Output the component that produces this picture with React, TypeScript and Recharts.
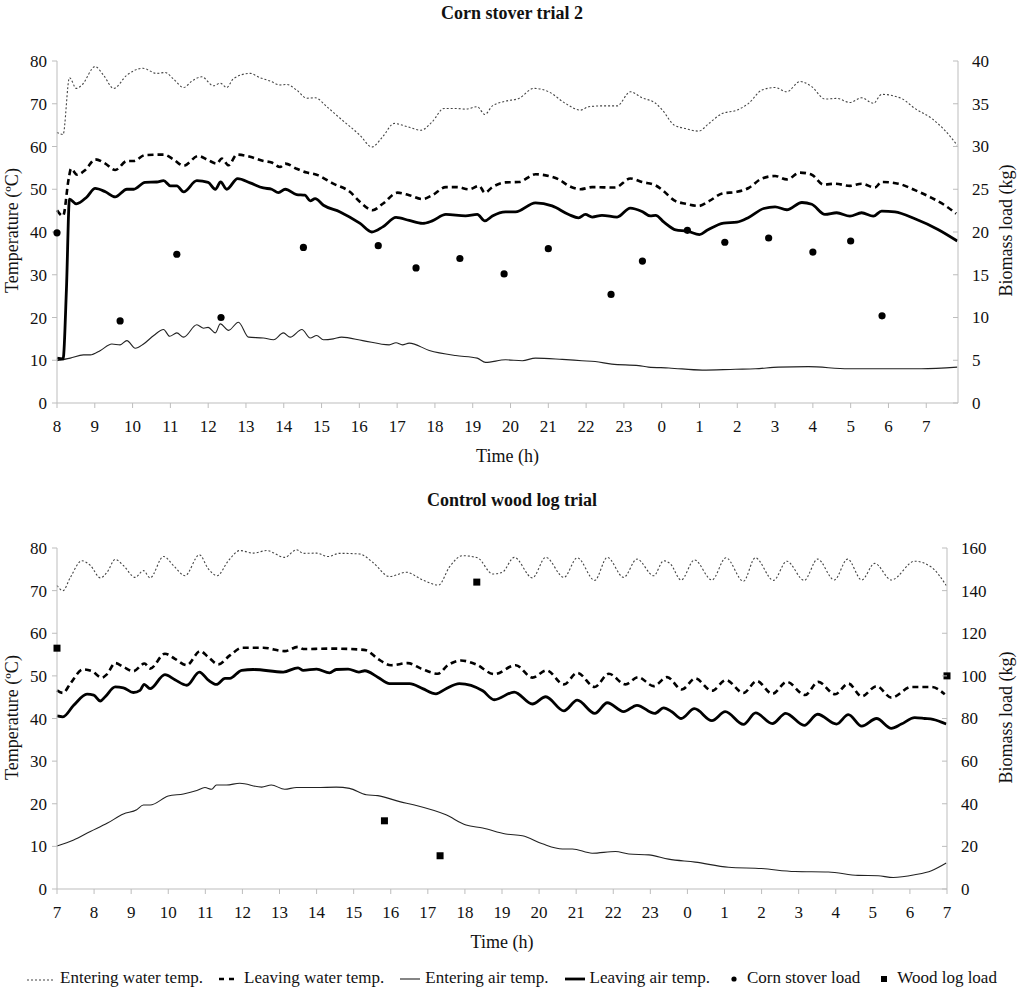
import React from 'react';
import { ComposedChart, Line, Scatter, XAxis, YAxis } from 'recharts';

type Pt = [number, number];

const FONT = 'Liberation Serif, Times New Roman, serif';
const AXIS = '#bdbdbd';
const INK = '#111';

// Corn stover trial 2 -- time in hours after 8:00, temperatures in ºC
const cornStartHour = 8;
const cornEnd = 23.84;
const cornEnteringWater: Pt[] = [
    [0, 63.3], [0.16, 62.8], [0.33, 76.1], [0.51, 73.6], [0.66, 74.4], [1.01, 78.7], [1.23, 76.7], [1.5, 73.6],
    [1.85, 76.7], [2.27, 78.3], [2.64, 77.1], [2.86, 77.3], [3.08, 75.8], [3.35, 73.8], [3.57, 75.3], [3.83, 76.3],
    [4.14, 74.2], [4.32, 74.8], [4.49, 73.8], [4.67, 75.9], [5.11, 77.1], [5.37, 76.1], [5.64, 75.3], [5.9, 74.4],
    [6.08, 74.5], [6.34, 73.2], [6.61, 71.3], [6.83, 71.4], [7.14, 69.3], [7.49, 66.6], [8.02, 62.6], [8.33, 59.9],
    [8.62, 62.3], [8.92, 65.4], [9.28, 64.6], [9.63, 63.8], [9.93, 65.8], [10.24, 68.9], [10.55, 68.9], [10.81, 68.75],
    [11.12, 69.3], [11.32, 67.5], [11.52, 69.5], [11.87, 70.6], [12.22, 71.25], [12.62, 73.6], [13.01, 72.8], [13.45, 70.1],
    [13.85, 68.5], [14.07, 69.3], [14.42, 69.5], [14.82, 69.5], [15.17, 72.8], [15.48, 71.4], [15.84, 70.1], [16.02, 68.5],
    [16.33, 65.0], [16.63, 64.2], [16.98, 63.6], [17.25, 65.4], [17.6, 67.7], [17.99, 68.5], [18.3, 70.1], [18.65, 73.2],
    [19.0, 73.8], [19.31, 72.8], [19.66, 75.2], [19.97, 74.0], [20.32, 71.1], [20.63, 71.25], [20.98, 70.3], [21.29, 71.4],
    [21.6, 70.1], [21.82, 72.2], [22.34, 71.25], [22.7, 68.9], [23.14, 66.6], [23.49, 63.8], [23.82, 60.3],
];
const cornLeavingWater: Pt[] = [
    [0, 45.1], [0.16, 43.75], [0.31, 52.5], [0.37, 54.8], [0.53, 53.4], [0.75, 54.5], [1.01, 57.0], [1.28, 56.0],
    [1.54, 54.5], [1.85, 56.6], [2.03, 56.6], [2.33, 58.0], [2.82, 58.1], [3.08, 57.0], [3.35, 55.5], [3.74, 57.8],
    [4.0, 56.8], [4.23, 56.0], [4.36, 57.2], [4.54, 55.6], [4.76, 58.1], [5.11, 57.6], [5.46, 56.6], [5.68, 56.25],
    [5.9, 55.2], [6.04, 56.0], [6.34, 54.8], [6.61, 53.9], [6.87, 53.4], [7.31, 51.3], [7.75, 49.4], [8.02, 47.0],
    [8.35, 45.1], [8.62, 46.6], [9.01, 49.2], [9.32, 48.6], [9.67, 47.7], [9.93, 48.6], [10.29, 50.5], [10.59, 50.5],
    [10.9, 50.0], [11.17, 50.8], [11.32, 49.2], [11.52, 50.5], [11.87, 51.6], [12.22, 51.7], [12.66, 53.5], [13.01, 53.1],
    [13.28, 52.3], [13.54, 50.8], [13.85, 50.0], [14.16, 50.5], [14.77, 50.4], [15.17, 52.5], [15.48, 51.7], [15.84, 50.9],
    [16.02, 49.8], [16.33, 47.4], [16.63, 46.6], [16.98, 46.1], [17.25, 47.2], [17.6, 49.0], [17.99, 49.4], [18.3, 50.3],
    [18.65, 52.5], [19.0, 53.1], [19.31, 52.3], [19.66, 53.9], [19.97, 53.4], [20.28, 51.1], [20.59, 51.3], [20.98, 50.8],
    [21.29, 51.3], [21.64, 50.4], [21.82, 51.7], [22.26, 51.3], [22.7, 49.8], [23.14, 48.0], [23.49, 46.25], [23.79, 44.3],
];
const cornEnteringAir: Pt[] = [
    [0, 9.9], [0.35, 10.5], [0.7, 11.25], [0.88, 11.25], [1.15, 12.3], [1.45, 13.8], [1.67, 13.6], [1.85, 14.6],
    [2.07, 12.8], [2.29, 13.8], [2.56, 15.8], [2.82, 17.2], [2.98, 15.6], [3.17, 16.4], [3.35, 15.4], [3.7, 18.3],
    [3.88, 17.5], [4.0, 17.7], [4.19, 16.4], [4.32, 18.5], [4.54, 17.0], [4.8, 18.9], [5.07, 15.4], [5.46, 15.2],
    [5.73, 14.8], [5.99, 16.4], [6.17, 15.4], [6.48, 17.2], [6.7, 15.2], [6.87, 15.8], [7.05, 14.8], [7.31, 15.0],
    [7.53, 15.4], [8.09, 14.6], [8.79, 13.6], [8.97, 14.1], [9.14, 13.6], [9.32, 14.0], [9.85, 12.3], [10.55, 11.1],
    [11.12, 10.5], [11.34, 9.5], [11.87, 10.1], [12.31, 9.9], [12.66, 10.5], [13.37, 10.2], [13.89, 9.9], [14.24, 9.7],
    [14.68, 9.1], [15.39, 8.75], [15.65, 8.4], [16.19, 8.2], [17.07, 7.7], [17.95, 7.9], [18.48, 8.0], [19.09, 8.4],
    [19.88, 8.5], [20.94, 8.0], [21.82, 8.0], [22.87, 8.0], [23.82, 8.4],
];
const cornLeavingAir: Pt[] = [
    [0, 10.5], [0.16, 10.3], [0.25, 26.7], [0.33, 47.7], [0.51, 46.6], [0.79, 48.2], [1.01, 50.2], [1.28, 49.4],
    [1.54, 48.2], [1.85, 50.0], [2.03, 50.0], [2.33, 51.6], [2.64, 51.7], [2.82, 52.0], [3.0, 50.8], [3.17, 50.8],
    [3.35, 49.4], [3.7, 52.0], [4.0, 51.6], [4.19, 50.0], [4.33, 51.7], [4.49, 50.0], [4.78, 52.5], [5.11, 51.5],
    [5.46, 50.3], [5.68, 50.0], [5.86, 49.2], [6.04, 50.0], [6.34, 48.75], [6.56, 48.6], [6.7, 47.3], [6.83, 47.8],
    [7.05, 46.25], [7.49, 44.7], [8.02, 42.0], [8.33, 40.0], [8.62, 41.2], [8.97, 43.4], [9.32, 42.7], [9.67, 42.0],
    [9.93, 42.6], [10.29, 44.1], [10.81, 43.75], [11.12, 44.1], [11.32, 42.6], [11.52, 43.75], [11.87, 44.7], [12.13, 44.7],
    [12.66, 46.8], [13.1, 46.1], [13.54, 44.1], [13.8, 43.3], [13.98, 44.1], [14.16, 43.5], [14.42, 43.9], [14.82, 43.5],
    [15.17, 45.6], [15.48, 44.8], [15.7, 43.75], [15.84, 43.9], [16.06, 42.3], [16.37, 40.5], [16.68, 40.2], [17.0, 39.4],
    [17.2, 40.4], [17.64, 42.1], [17.99, 42.3], [18.3, 43.4], [18.7, 45.5], [19.0, 45.9], [19.31, 45.2], [19.71, 46.9],
    [19.97, 46.5], [20.32, 44.1], [20.63, 44.5], [20.98, 43.7], [21.29, 44.5], [21.6, 43.7], [21.82, 44.9], [22.17, 44.7],
    [22.7, 43.1], [23.31, 40.6], [23.82, 37.9],
];
// corn stover load (kg)
const cornLoad: Pt[] = [
    [0, 19.9], [1.67, 9.6], [3.17, 17.4], [4.34, 10.0], [6.52, 18.2], [8.5, 18.4], [9.5, 15.8], [10.66, 16.9],
    [11.83, 15.1], [13.0, 18.05], [14.66, 12.7], [15.49, 16.6], [16.68, 20.2], [17.67, 18.8], [18.83, 19.3],
    [20.0, 17.65], [21.0, 18.95], [21.83, 10.2],
];

// Control wood log trial -- time in hours after 7:00
const woodStartHour = 7;
const woodEnd = 24;
const woodEnteringWater: Pt[] = [
    [0, 71.2], [0.16, 70.0], [0.36, 73.1], [0.67, 77.0], [0.9, 75.9], [1.17, 73.0], [1.35, 74.3], [1.57, 77.3],
    [1.79, 75.9], [2.11, 73.1], [2.33, 74.7], [2.51, 73.0], [2.87, 78.0], [3.18, 75.5], [3.45, 73.5], [3.84, 78.4],
    [4.08, 75.1], [4.32, 73.5], [4.62, 77.0], [4.93, 79.4], [5.29, 78.8], [5.65, 79.4], [6.14, 77.8], [6.46, 79.6],
    [6.64, 78.75], [7.0, 78.8], [7.31, 78.0], [7.62, 78.75], [8.16, 78.6], [8.52, 76.6], [8.97, 73.3], [9.42, 74.3],
    [9.86, 72.5], [10.29, 71.3], [10.58, 75.5], [10.94, 78.2], [11.34, 77.7], [11.75, 73.9], [12.01, 74.3], [12.33, 77.8],
    [12.82, 73.0], [13.18, 77.8], [13.67, 73.1], [14.03, 77.7], [14.5, 72.4], [14.84, 77.8], [15.28, 73.1], [15.64, 77.4],
    [16.09, 73.5], [16.36, 77.0], [16.54, 76.3], [16.83, 72.5], [17.19, 77.2], [17.66, 72.5], [18.04, 77.7], [18.51, 72.2],
    [18.83, 77.7], [19.32, 72.4], [19.68, 76.9], [20.15, 72.4], [20.51, 77.4], [20.96, 72.5], [21.32, 77.4], [21.7, 72.5],
    [22.05, 76.4], [22.5, 72.5], [23.13, 76.9], [23.58, 75.5], [23.98, 71.2],
];
const woodLeavingWater: Pt[] = [
    [0, 46.6], [0.16, 46.0], [0.36, 48.2], [0.7, 51.5], [0.94, 51.1], [1.21, 49.6], [1.35, 50.4], [1.57, 53.0],
    [1.79, 52.1], [2.06, 51.1], [2.36, 52.9], [2.51, 51.7], [2.91, 55.2], [3.18, 54.0], [3.5, 52.5], [3.86, 55.8],
    [4.08, 54.4], [4.35, 52.7], [4.66, 54.8], [5.0, 56.6], [5.56, 56.6], [6.14, 55.8], [6.5, 56.8], [6.64, 56.3],
    [7.35, 56.4], [8.14, 56.2], [8.34, 56.0], [8.65, 54.0], [9.01, 52.5], [9.46, 53.0], [9.82, 51.7], [10.27, 50.5],
    [10.54, 52.5], [10.89, 53.6], [11.3, 52.7], [11.79, 50.4], [12.37, 52.5], [12.82, 49.6], [13.2, 51.3], [13.67, 48.0],
    [14.03, 50.7], [14.5, 47.4], [14.88, 50.5], [15.33, 48.0], [15.67, 49.7], [16.09, 47.6], [16.45, 49.7], [16.85, 46.8],
    [17.21, 49.4], [17.66, 46.5], [18.04, 49.0], [18.51, 46.0], [18.87, 48.8], [19.29, 45.8], [19.68, 48.6], [20.17, 45.5],
    [20.53, 48.6], [20.98, 45.7], [21.34, 48.2], [21.7, 45.2], [22.1, 47.6], [22.5, 44.9], [23.04, 47.4], [23.58, 47.4],
    [23.94, 45.7],
];
const woodEnteringAir: Pt[] = [
    [0, 10.1], [0.45, 11.5], [0.9, 13.5], [1.35, 15.4], [1.79, 17.6], [2.15, 18.6], [2.33, 19.7], [2.51, 19.7],
    [3.0, 21.8], [3.41, 22.3], [3.77, 23.1], [3.99, 23.8], [4.17, 23.4], [4.3, 24.4], [4.57, 24.4], [4.93, 24.8],
    [5.52, 23.9], [5.78, 24.4], [6.14, 23.4], [6.46, 23.8], [7.0, 23.8], [7.53, 23.9], [7.89, 23.6], [8.34, 22.1],
    [8.65, 21.9], [9.24, 20.5], [9.64, 19.7], [10.49, 17.4], [11.03, 15.0], [11.48, 14.3], [12.1, 12.9], [12.55, 12.5],
    [13.09, 10.6], [13.63, 9.4], [13.9, 9.4], [14.43, 8.4], [15.06, 8.8], [15.42, 8.2], [15.96, 8.0], [16.49, 7.0],
    [17.21, 6.3], [18.11, 5.1], [19.0, 4.8], [19.9, 4.1], [20.8, 4.0], [21.6, 3.2], [22.14, 3.1], [22.55, 2.7],
    [23.13, 3.35], [23.58, 4.3], [23.98, 6.1],
];
const woodLeavingAir: Pt[] = [
    [0, 40.6], [0.16, 40.4], [0.45, 43.1], [0.81, 45.7], [0.99, 45.5], [1.17, 44.1], [1.3, 45.1], [1.57, 47.4],
    [1.79, 47.2], [2.06, 46.1], [2.24, 46.6], [2.35, 48.0], [2.51, 47.0], [2.91, 50.3], [3.18, 49.1], [3.5, 47.8],
    [3.84, 50.9], [4.08, 49.0], [4.3, 48.0], [4.53, 49.4], [4.66, 49.4], [4.98, 51.3], [5.29, 51.5], [6.1, 50.9],
    [6.5, 51.9], [6.64, 51.3], [7.0, 51.6], [7.35, 50.7], [7.53, 51.5], [7.85, 51.6], [8.14, 50.9], [8.3, 51.2],
    [8.65, 49.7], [8.97, 48.2], [9.51, 48.2], [9.86, 47.0], [10.22, 45.8], [10.49, 47.0], [10.85, 48.2], [11.48, 46.5],
    [11.79, 44.4], [12.33, 46.2], [12.82, 43.4], [13.18, 45.1], [13.67, 41.8], [14.03, 44.3], [14.5, 41.2], [14.84, 43.7],
    [15.28, 41.6], [15.64, 43.1], [16.12, 41.2], [16.36, 42.5], [16.58, 41.6], [16.83, 40.0], [17.19, 42.3], [17.66, 39.5],
    [18.02, 41.6], [18.51, 38.6], [18.84, 41.3], [19.29, 38.8], [19.65, 41.2], [20.15, 38.4], [20.51, 41.0], [21.02, 38.7],
    [21.34, 40.9], [21.7, 38.2], [22.1, 40.0], [22.5, 37.7], [22.77, 38.7], [23.13, 40.2], [23.4, 40.0], [23.62, 39.8],
    [23.98, 38.7],
];
// wood log load (kg)
const woodLoad: Pt[] = [[0, 113], [8.83, 32], [10.33, 15.6], [11.32, 144], [24, 100]];

const tempTicks = [0, 10, 20, 30, 40, 50, 60, 70, 80];
const cornLoadTicks = [0, 5, 10, 15, 20, 25, 30, 35, 40];
const woodLoadTicks = [0, 20, 40, 60, 80, 100, 120, 140, 160];
const cornHourTicks = Array.from({ length: 24 }, (_, i) => i);
const woodHourTicks = Array.from({ length: 25 }, (_, i) => i);

const rows = (pts: Pt[]) => pts.map(([t, v]) => ({ t, v }));

const RightTick = ({ y, payload, axisX }: any) => (
    <g>
        <line x1={axisX - 5} x2={axisX} y1={y} y2={y} stroke={AXIS} />
        <text x={axisX + 14} y={y} dy="0.35em" textAnchor="start" fill={INK} fontSize={17} style={{ fontFamily: FONT }}>
            {payload.value}
        </text>
    </g>
);

const Dot = ({ cx, cy }: any) => <circle cx={cx} cy={cy} r={3.6} fill="#000" />;
const Square = ({ cx, cy }: any) => <rect x={cx - 3.5} y={cy - 3.5} width={7} height={7} fill="#000" />;

interface PanelProps {
    top: number;
    title: string;
    plotTop: number;
    plotBottom: number;
    plotRight: number;
    startHour: number;
    end: number;
    hourTicks: number[];
    loadTicks: number[];
    series: Pt[][];
    load: Pt[];
    square?: boolean;
}

const Panel: React.FC<PanelProps> = (p) => {
    const H = 480;
    const tickStyle = { fill: INK, fontSize: 17, style: { fontFamily: FONT } };
    const [enteringWater, leavingWater, enteringAir, leavingAir] = p.series;
    return (
        <div style={{ position: 'absolute', left: 0, top: p.top, width: 1024, height: H }}>
            <div style={{ position: 'absolute', left: 0, width: 1024, top: p.plotTop - 58, textAlign: 'center', fontWeight: 'bold', fontSize: 18 }}>
                {p.title}
            </div>
            <ComposedChart width={1024} height={H} margin={{ top: p.plotTop, right: 0, bottom: 0, left: 0 }} style={{ fontFamily: FONT }}>
                <XAxis
                    type="number"
                    dataKey="t"
                    domain={[0, p.end]}
                    ticks={p.hourTicks}
                    interval={0}
                    tickFormatter={(t: number) => String((p.startHour + t) % 24)}
                    height={H - p.plotBottom}
                    stroke={AXIS}
                    tickSize={5}
                    tickMargin={12}
                    tick={tickStyle}
                />
                <YAxis yAxisId="left" domain={[0, 80]} ticks={tempTicks} interval={0} width={57} stroke={AXIS} tickSize={5} tickMargin={5} tick={tickStyle} />
                <YAxis
                    yAxisId="right"
                    orientation="right"
                    domain={[0, p.loadTicks[p.loadTicks.length - 1]]}
                    ticks={p.loadTicks}
                    interval={0}
                    width={1024 - p.plotRight}
                    stroke={AXIS}
                    tickLine={false}
                    tick={(tp: any) => <RightTick {...tp} axisX={p.plotRight} />}
                />
                <Line yAxisId="left" data={rows(enteringWater)} dataKey="v" type="monotone" stroke="#444" strokeWidth={1.1} strokeDasharray="2 2" dot={false} isAnimationActive={false} />
                <Line yAxisId="left" data={rows(leavingWater)} dataKey="v" type="monotone" stroke="#000" strokeWidth={2.6} strokeDasharray="6 4" dot={false} isAnimationActive={false} />
                <Line yAxisId="left" data={rows(enteringAir)} dataKey="v" type="monotone" stroke="#222" strokeWidth={1.1} dot={false} isAnimationActive={false} />
                <Line yAxisId="left" data={rows(leavingAir)} dataKey="v" type="monotone" stroke="#000" strokeWidth={2.8} dot={false} isAnimationActive={false} />
                <Scatter yAxisId="right" data={rows(p.load)} dataKey="v" shape={p.square ? Square : Dot} isAnimationActive={false} />
            </ComposedChart>
            <div style={{ position: 'absolute', left: 12 - 100, top: (p.plotTop + p.plotBottom) / 2 - 12, width: 200, textAlign: 'center', transform: 'rotate(-90deg)', fontSize: 18 }}>
                Temperature (ºC)
            </div>
            <div style={{ position: 'absolute', left: 1006 - 100, top: (p.plotTop + p.plotBottom) / 2 - 12, width: 200, textAlign: 'center', transform: 'rotate(-90deg)', fontSize: 18 }}>
                Biomass load (kg)
            </div>
            <div style={{ position: 'absolute', left: 57, width: p.plotRight - 57, top: p.plotBottom + 43, textAlign: 'center', fontSize: 18 }}>
                Time (h)
            </div>
        </div>
    );
};

const legendItems = [
    { label: 'Entering water temp.', kind: 'dotted' },
    { label: 'Leaving water temp.', kind: 'dashed' },
    { label: 'Entering air temp.', kind: 'thin' },
    { label: 'Leaving air temp.', kind: 'thick' },
    { label: 'Corn stover load', kind: 'dot' },
    { label: 'Wood log load', kind: 'square' },
];

const Swatch = ({ kind }: { kind: string }) => {
    const w = kind === 'dotted' ? 28 : kind === 'dot' || kind === 'square' ? 16 : 20;
    return (
        <svg width={w} height={12} style={{ marginRight: 5 }}>
            {kind === 'dotted' && <line x1={0} x2={w} y1={8} y2={8} stroke="#444" strokeWidth={1.1} strokeDasharray="2 2" />}
            {kind === 'dashed' && <line x1={0} x2={w} y1={7} y2={7} stroke="#000" strokeWidth={2.6} strokeDasharray="5 5" />}
            {kind === 'thin' && <line x1={0} x2={w} y1={7} y2={7} stroke="#222" strokeWidth={1.1} />}
            {kind === 'thick' && <line x1={0} x2={w} y1={7} y2={7} stroke="#000" strokeWidth={2.8} />}
            {kind === 'dot' && <circle cx={8} cy={7} r={2.6} fill="#000" />}
            {kind === 'square' && <rect x={5} y={4} width={6} height={6} fill="#000" />}
        </svg>
    );
};

export default function App() {
    return (
        <div style={{ position: 'absolute', left: 0, top: 0, width: 1024, height: 994, background: '#fff', overflow: 'hidden', fontFamily: FONT, color: INK }}>
            <Panel
                top={0}
                title="Corn stover trial 2"
                plotTop={61}
                plotBottom={403}
                plotRight={958}
                startHour={cornStartHour}
                end={cornEnd}
                hourTicks={cornHourTicks}
                loadTicks={cornLoadTicks}
                series={[cornEnteringWater, cornLeavingWater, cornEnteringAir, cornLeavingAir]}
                load={cornLoad}
            />
            <Panel
                top={480}
                title="Control wood log trial"
                plotTop={68}
                plotBottom={409}
                plotRight={947}
                startHour={woodStartHour}
                end={woodEnd}
                hourTicks={woodHourTicks}
                loadTicks={woodLoadTicks}
                series={[woodEnteringWater, woodLeavingWater, woodEnteringAir, woodLeavingAir]}
                load={woodLoad}
                square
            />
            <div style={{ position: 'absolute', left: 0, width: 1024, top: 968, display: 'flex', justifyContent: 'center', alignItems: 'center', fontSize: 17 }}>
                {legendItems.map((it) => (
                    <div key={it.label} style={{ display: 'flex', alignItems: 'center', margin: '0 8px' }}>
                        <Swatch kind={it.kind} />
                        <span>{it.label}</span>
                    </div>
                ))}
            </div>
        </div>
    );
}
